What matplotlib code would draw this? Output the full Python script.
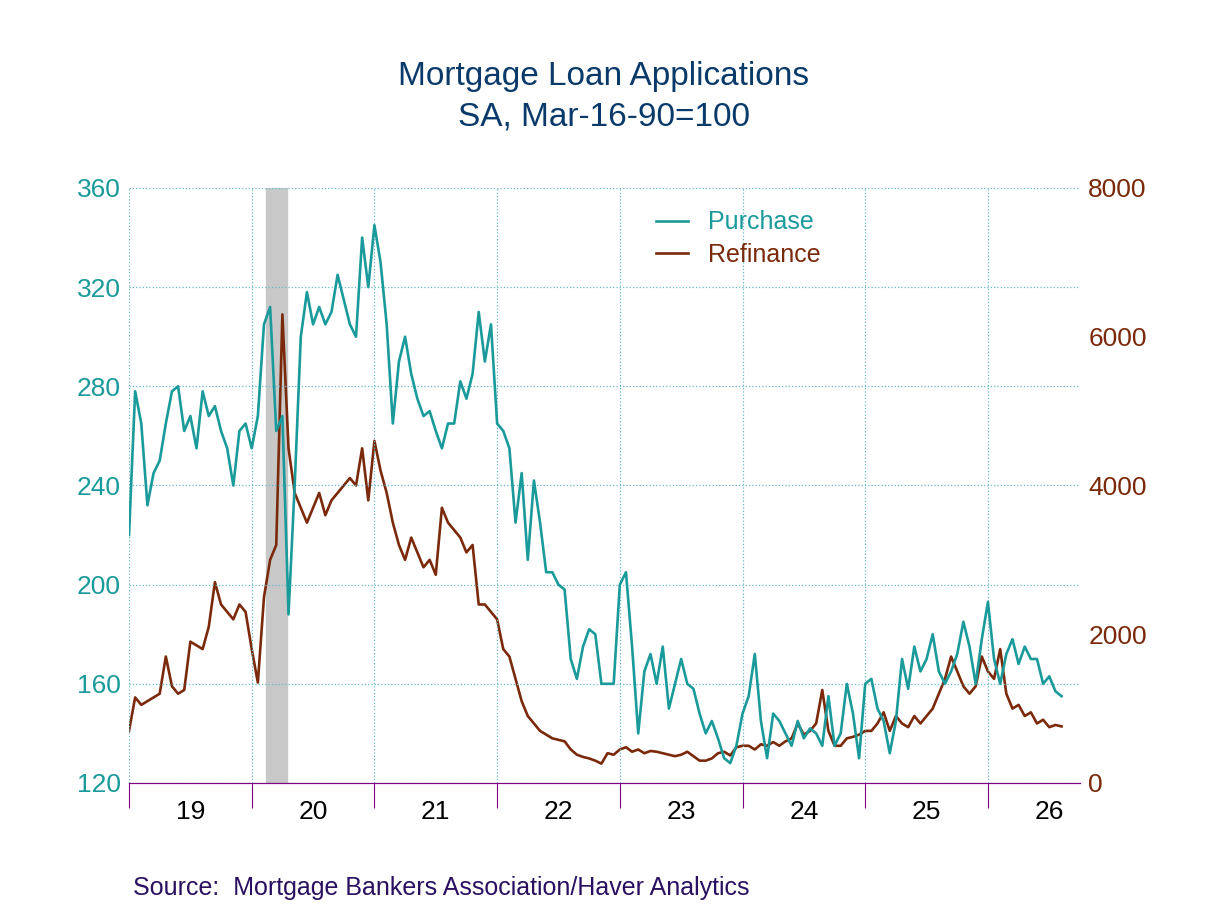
import matplotlib.pyplot as plt
import numpy as np

plt.rcParams['font.family'] = ['Liberation Sans', 'DejaVu Sans']

# values every 0.05 year starting Jan 2019
purchase = [220, 278, 265, 232, 245, 250, 265, 278, 280, 262, 268, 255, 278, 268, 272, 262, 255, 240, 262, 265,
            255, 268, 305, 312, 262, 268, 188, 240, 300, 318, 305, 312, 305, 310, 325, 315, 305, 300, 340, 320,
            345, 330, 305, 265, 290, 300, 285, 275, 268, 270, 262, 255, 265, 265, 282, 275, 285, 310, 290, 305,
            265, 262, 255, 225, 245, 210, 242, 225, 205, 205, 200, 198, 170, 162, 175, 182, 180, 160, 160, 160,
            200, 205, 175, 140, 165, 172, 160, 175, 150, 160, 170, 160, 158, 148, 140, 145, 138, 130, 128, 135,
            148, 155, 172, 145, 130, 148, 145, 140, 135, 145, 138, 142, 140, 135, 155, 135, 140, 160, 148, 130,
            160, 162, 150, 145, 132, 145, 170, 158, 175, 165, 170, 180, 165, 160, 165, 172, 185, 175, 160, 178,
            193, 170, 160, 172, 178, 168, 175, 170, 170, 160, 163, 157, 155]
refinance = [700, 1150, 1050, 1100, 1150, 1200, 1700, 1300, 1200, 1250, 1900, 1850, 1800, 2100, 2700, 2400, 2300, 2200, 2400, 2300,
             1800, 1350, 2500, 3000, 3200, 6300, 4500, 3900, 3700, 3500, 3700, 3900, 3600, 3800, 3900, 4000, 4100, 4000, 4500, 3800,
             4600, 4200, 3900, 3500, 3200, 3000, 3300, 3100, 2900, 3000, 2800, 3700, 3500, 3400, 3300, 3100, 3200, 2400, 2400, 2300,
             2200, 1800, 1700, 1400, 1100, 900, 800, 700, 650, 600, 580, 560, 450, 380, 350, 330, 300, 260, 400, 380,
             450, 480, 420, 450, 400, 430, 420, 400, 380, 360, 380, 420, 360, 300, 300, 330, 400, 420, 370, 480,
             500, 500, 450, 520, 500, 550, 500, 560, 600, 800, 650, 700, 800, 1250, 700, 500, 500, 600, 620, 650,
             700, 700, 800, 950, 700, 900, 800, 750, 900, 800, 900, 1000, 1200, 1400, 1700, 1500, 1300, 1200, 1300, 1700,
             1500, 1400, 1800, 1200, 1000, 1050, 900, 950, 800, 850, 750, 780, 760]
years = list(range(2019, 2027))
year_labels = ['19', '20', '21', '22', '23', '24', '25', '26']
recession = (2020.12, 2020.29)

t = 2019 + 0.05 * np.arange(len(purchase))
teal = '#1a9a9a'
brown = '#7a2a0a'

fig = plt.figure(figsize=(12.08, 9.06), dpi=100)
ax = fig.add_axes([0.1068, 0.1358, 0.7872, 0.6567])
ax2 = ax.twinx()
ax.set_zorder(ax2.get_zorder() + 1)
ax.patch.set_visible(False)

ax2.axvspan(*recession, color='#c8c8c8', zorder=0)
ax.grid(True, which='major', color='#66b8c8', ls=':', lw=0.9)
l1, = ax.plot(t, purchase, color=teal, lw=1.9, label='Purchase')
l2, = ax2.plot(t, refinance, color=brown, lw=1.9, label='Refinance', zorder=3)

ax.set_xlim(2019, 2026.75)
ax.set_ylim(120, 360)
ax2.set_ylim(0, 8000)
ax.set_yticks(range(120, 361, 40))
ax2.set_yticks(range(0, 8001, 2000))
ax.set_xticks(years)
ax.set_xticklabels([])
ax.set_xticks([y + 0.5 for y in years], minor=True)
ax.set_xticklabels(year_labels, minor=True)
ax.tick_params(axis='x', which='major', length=18, color='#800080', direction='out')
ax.tick_params(axis='x', which='minor', length=0, labelsize=19, pad=12)
ax.tick_params(axis='y', length=0, labelcolor=teal, labelsize=19, pad=6)
ax2.tick_params(axis='y', length=0, labelcolor=brown, labelsize=19, pad=6)

for a in (ax, ax2):
    for s in ('top', 'left', 'right'):
        a.spines[s].set_visible(False)
    a.spines['bottom'].set_color('#800080')

ax.legend(handles=[l1, l2], loc='upper left', bbox_to_anchor=(0.53, 1.0), frameon=False,
          fontsize=18, handlelength=1.3, labelspacing=0.35, labelcolor=[teal, brown])

fig.text(0.5, 0.906, 'Mortgage Loan Applications', ha='center', fontsize=24, color='#0a3a6a')
fig.text(0.5, 0.862, 'SA, Mar-16-90=100', ha='center', fontsize=24, color='#0a3a6a')
fig.text(0.11, 0.012, 'Source:  Mortgage Bankers Association/Haver Analytics', fontsize=18, color='#2a1060')

fig.savefig('out.png', dpi=100)
